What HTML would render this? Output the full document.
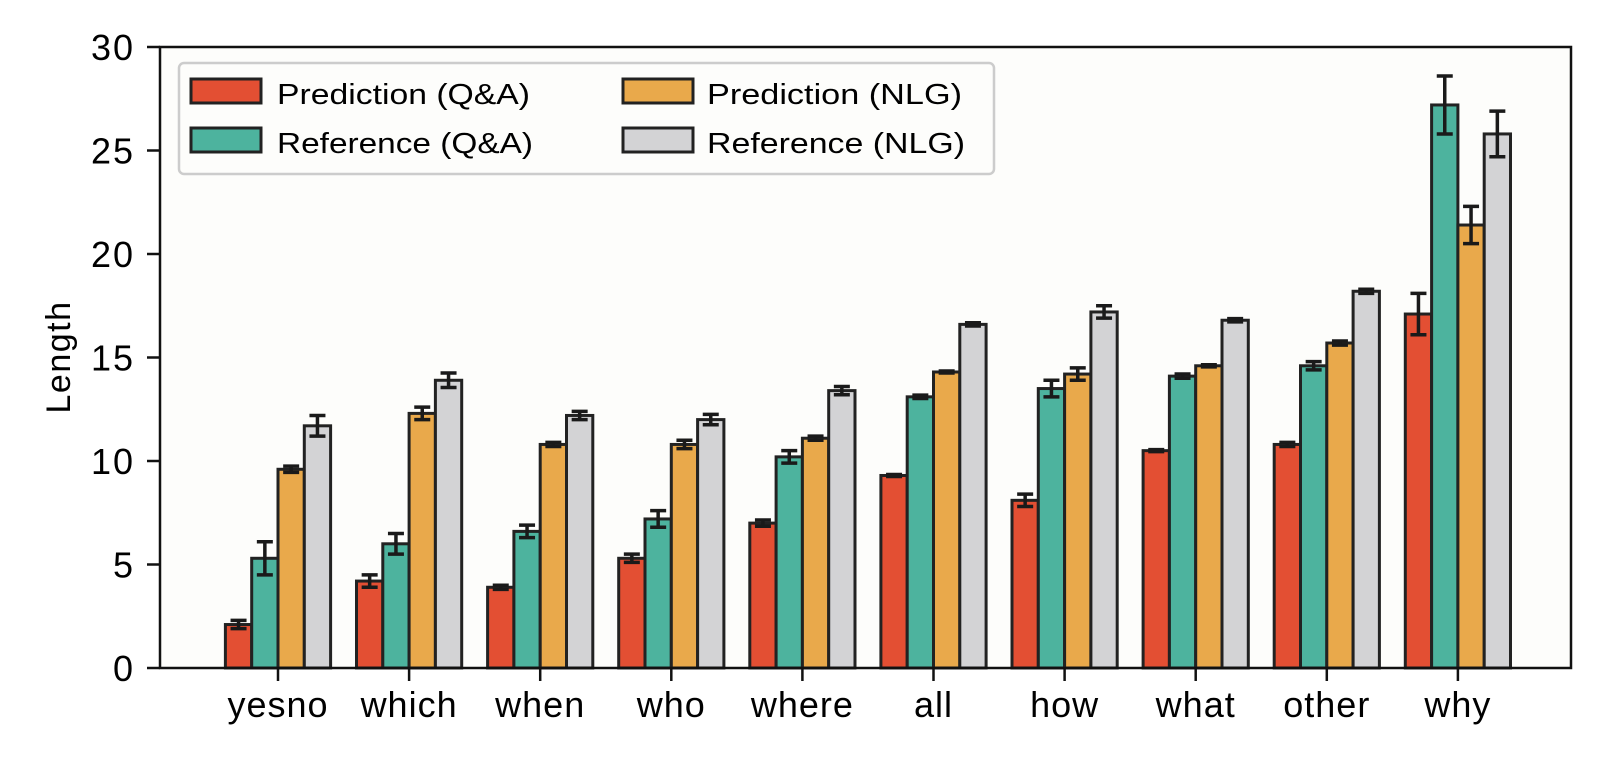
<!DOCTYPE html>
<html><head><meta charset="utf-8"><style>
body{margin:0;background:#fff;}
svg text{font-family:"Liberation Sans",Arial,sans-serif;fill:#000;}
</style></head><body>
<svg id="chart" width="1616" height="760">
<rect x="160" y="47" width="1411" height="621" fill="#fdfdfb"/>
<g id="bars"></g>
<rect x="160" y="47" width="1411" height="621" fill="none" stroke="#111" stroke-width="2.5"/>
<g id="axes"></g>
<text x="70" y="357" font-size="34" letter-spacing="1.5" text-anchor="middle" transform="rotate(-90 70 357)">Length</text>
<g>
<rect x="179" y="63" width="815" height="111" rx="5" fill="#fdfdfb" stroke="#ccc" stroke-width="2.5"/>
<g><rect x="191" y="79" width="70" height="24" fill="#e34f33" stroke="#222" stroke-width="3"/><text x="277" y="104" font-size="29" textLength="253" lengthAdjust="spacingAndGlyphs">Prediction (Q&amp;A)</text></g>
<g><rect x="191" y="128" width="70" height="24" fill="#4db39e" stroke="#222" stroke-width="3"/><text x="277" y="153" font-size="29" textLength="256" lengthAdjust="spacingAndGlyphs">Reference (Q&amp;A)</text></g>
<g><rect x="623" y="79" width="70" height="24" fill="#e9a94b" stroke="#222" stroke-width="3"/><text x="707" y="104" font-size="29" textLength="255" lengthAdjust="spacingAndGlyphs">Prediction (NLG)</text></g>
<g><rect x="623" y="128" width="70" height="24" fill="#d3d3d5" stroke="#222" stroke-width="3"/><text x="707" y="153" font-size="29" textLength="258" lengthAdjust="spacingAndGlyphs">Reference (NLG)</text></g>
</g>
</svg>
<script>
const categories=["yesno","which","when","who","where","all","how","what","other","why"];
const predQA=[2.1,4.2,3.9,5.3,7.0,9.3,8.1,10.5,10.8,17.1];
const refQA=[5.3,6.0,6.6,7.2,10.2,13.1,13.5,14.1,14.6,27.2];
const predNLG=[9.6,12.3,10.8,10.8,11.1,14.3,14.2,14.6,15.7,21.4];
const refNLG=[11.7,13.9,12.2,12.0,13.4,16.6,17.2,16.8,18.2,25.8];
const errPredQA=[0.2,0.3,0.1,0.2,0.15,0.05,0.3,0.05,0.1,1.0];
const errRefQA=[0.8,0.5,0.3,0.4,0.3,0.08,0.4,0.1,0.2,1.4];
const errPredNLG=[0.15,0.3,0.1,0.2,0.1,0.05,0.3,0.05,0.1,0.9];
const errRefNLG=[0.5,0.35,0.2,0.25,0.2,0.08,0.3,0.08,0.1,1.1];
const yTicks=[0,5,10,15,20,25,30];
const series=[[predQA,errPredQA,"#e34f33","pred-qa"],[refQA,errRefQA,"#4db39e","ref-qa"],[predNLG,errPredNLG,"#e9a94b","pred-nlg"],[refNLG,errRefNLG,"#d3d3d5","ref-nlg"]];
const NS="http://www.w3.org/2000/svg";
const y=v=>668-v*(621/30);
const xc=i=>278+i*131.1;
const bw=26.3;
function mk(t,a,p){const e=document.createElementNS(NS,t);for(const k in a)e.setAttribute(k,a[k]);p.appendChild(e);return e;}
const bars=document.getElementById("bars"),axes=document.getElementById("axes");
categories.forEach((c,i)=>{
 series.forEach((s,j)=>{
  const v=s[0][i],er=s[1][i],x=xc(i)-2*bw+j*bw;
  const r=mk("rect",{x:x,y:y(v),width:bw,height:668-y(v),fill:s[2],stroke:"#222","stroke-width":3},bars);
  
  
  const cx=x+bw/2;
  const g=mk("g",{stroke:"#1a1a1a","stroke-width":3.5},bars);
  
  
  mk("line",{x1:cx,x2:cx,y1:y(v-er),y2:y(v+er)},g);
  mk("line",{x1:cx-8,x2:cx+8,y1:y(v-er),y2:y(v-er)},g);
  mk("line",{x1:cx-8,x2:cx+8,y1:y(v+er),y2:y(v+er)},g);
 });
 mk("line",{x1:xc(i),x2:xc(i),y1:668,y2:681,stroke:"#111","stroke-width":2.5},axes);
 const t=mk("text",{x:xc(i),y:717,"font-size":36,"letter-spacing":1,"text-anchor":"middle"},axes);
 t.textContent=c;
 
 
});
yTicks.forEach(v=>{
 mk("line",{x1:147,x2:160,y1:y(v),y2:y(v),stroke:"#111","stroke-width":2.5},axes);
 const t=mk("text",{x:135,y:y(v)+13,"font-size":36,"letter-spacing":2,"text-anchor":"end"},axes);
 t.textContent=v;
 
 
});
</script>
</body></html>
